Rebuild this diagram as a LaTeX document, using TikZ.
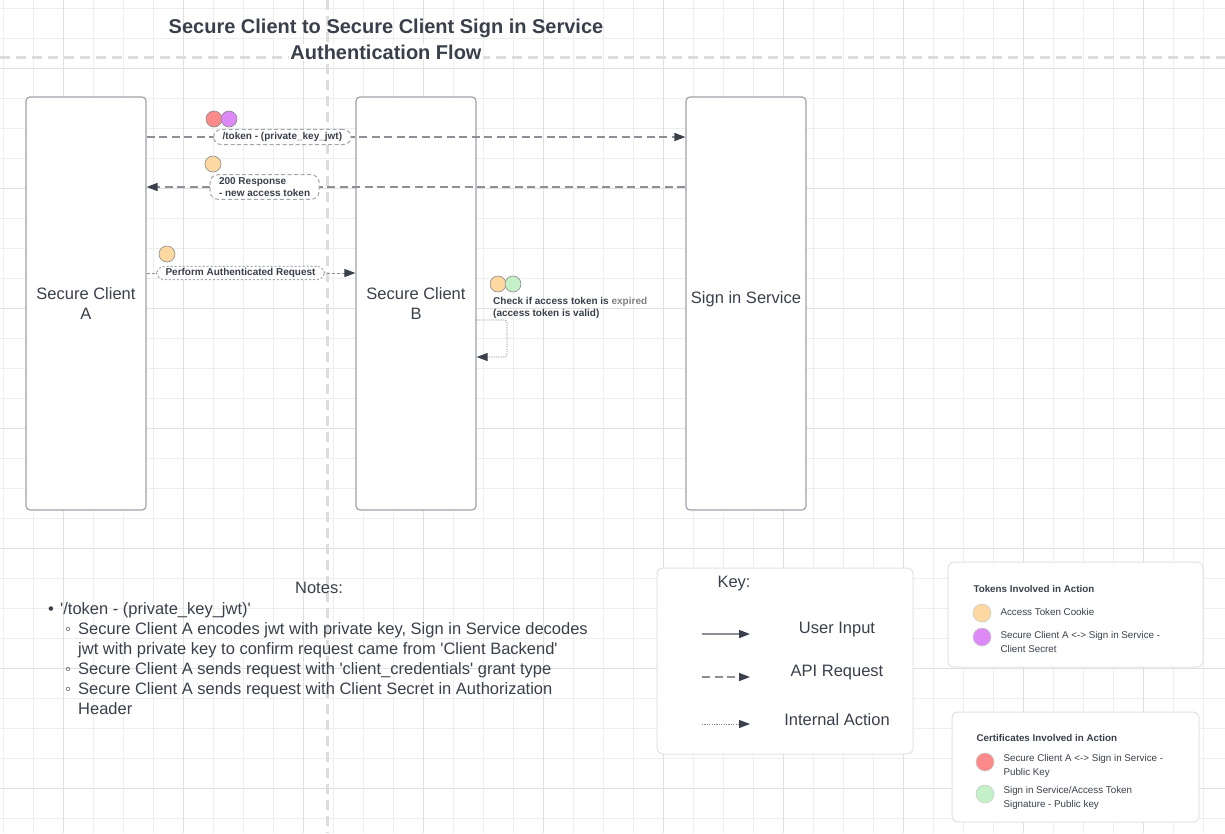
\documentclass[tikz,border=0pt]{standalone}
\usepackage{fontspec}
\setmainfont{Liberation Sans}[Ligatures=TeXOff]
\usetikzlibrary{arrows.meta}
\definecolor{ink}{HTML}{3A404B}
\definecolor{gridA}{HTML}{EEEEEE}
\definecolor{gridB}{HTML}{E0E0E0}
\definecolor{guideC}{HTML}{DDDDDD}
\definecolor{boxline}{HTML}{9EA2AA}
\definecolor{panelline}{HTML}{DFE2E7}
\definecolor{arrowline}{HTML}{8C8F95}
\definecolor{headc}{HTML}{3A404B}
\definecolor{lblline}{HTML}{A3A6AB}
\definecolor{dotline}{HTML}{8A8A8A}
\definecolor{cookieorange}{HTML}{FDD8A0}
\definecolor{secretpurple}{HTML}{DD8AF7}
\definecolor{certred}{HTML}{FD8A8A}
\definecolor{certgreen}{HTML}{C4F1C8}

\begin{document}
\begin{tikzpicture}[x=1pt,y=-1pt,
  every node/.style={text=ink},
  gridminor/.style={draw=gridA, line width=0.8pt},
  gridmajor/.style={draw=gridB, line width=0.9pt},
  guide/.style={draw=guideC, line width=3pt, dash pattern=on 10pt off 6pt},
  actor/.style={draw=boxline, line width=1.2pt, fill=white, rounded corners=4pt,
    minimum width=120pt, minimum height=413pt, align=center,
    font=\fontsize{16.5}{20}\selectfont},
  panel/.style={draw=panelline, line width=1pt, fill=white, rounded corners=6pt},
  tip/.style={-{Triangle[length=11pt,width=8pt,color=headc]}},
  apiarrow/.style={tip, draw=arrowline, line width=1.5pt, dash pattern=on 8pt off 4.5pt},
  userarrow/.style={tip, draw=arrowline, line width=1.5pt},
  intarrow/.style={tip, draw=arrowline, line width=1pt, dash pattern=on 3pt off 2pt},
  dotarrow/.style={tip, draw=dotline, line width=0.8pt, dash pattern=on 1.2pt off 1.2pt},
  apilabel/.style={draw=lblline, line width=1pt, dash pattern=on 4pt off 2.5pt, fill=white,
    rounded corners=8pt, inner xsep=9pt, inner ysep=3pt,
    font=\bfseries\fontsize{10}{11.5}\selectfont},
  intlabel/.style={apilabel, dash pattern=on 2pt off 2pt, rounded corners=8pt},
  tokdot/.style={circle, draw=dotline, line width=0.6pt, minimum size=16pt, inner sep=0pt},
  legdot/.style={tokdot, draw=gray!40, minimum size=18pt},
  big/.style={font=\fontsize{16.5}{20}\selectfont},
  small/.style={font=\fontsize{9.8}{14}\selectfont, align=left},
]
\useasboundingbox (0,0) rectangle (1225,833);
\fill[white] (0,0) rectangle (1225,833);

% grid
\foreach \x in {3,33,...,1223}
  \draw[gridminor] (\x,0) -- (\x,833);
\foreach \y in {8,38,...,833}
  \draw[gridminor] (0,\y) -- (1225,\y);
\foreach \x in {63,183,...,1225}
  \draw[gridmajor] (\x,0) -- (\x,833);
\foreach \y in {68,188,...,833}
  \draw[gridmajor] (0,\y) -- (1225,\y);
\draw[guide] (0,57) -- (1225,57);
\draw[guide] (327,0) -- (327,833);

% title
\node[font=\bfseries\fontsize{20}{24}\selectfont] (title1) at (386,28)
  {Secure Client to Secure Client Sign in Service};
\node[font=\bfseries\fontsize{20}{24}\selectfont, fill=white, inner sep=1pt] (title2) at (386,52)
  {Authentication Flow};

% participants
\node[actor] (clientA) at (86,303.5) {Secure Client\\A};
\node[actor] (clientB) at (416,303.5) {Secure Client\\B};
\node[actor] (signin) at (746,303.5) {\raisebox{0pt}[0pt][0pt]{Sign in Service}};

\coordinate (tokY) at (0,137);
\coordinate (respY) at (0,187);
\coordinate (reqY) at (0,273);
\coordinate (loopTop) at (507,320);
\coordinate (loopBot) at (507,357);

\draw[apiarrow] (clientA.east |- tokY) -- node[apilabel, pos=.252] (tokLbl)
  {/token - (private\_key\_jwt)} (signin.west |- tokY);
\draw[apiarrow] (signin.west |- respY) -- node[apilabel, pos=.781, align=left] (respLbl)
  {200 Response\\- new access token} (clientA.east |- respY);
\draw[intarrow] (clientA.east |- reqY) -- node[intlabel, pos=.45, inner ysep=2pt] (reqLbl)
  {Perform Authenticated Request} (clientB.west |- reqY);
\draw[dotarrow, rounded corners=3pt] (clientB.east |- loopTop) -- (loopTop) -- (loopBot)
  -- (clientB.east |- loopBot);
\node[anchor=north west, align=left, inner sep=0pt,
  font=\bfseries\fontsize{10}{12.5}\selectfont] (checkLbl) at (493,297)
  {Check if access token is \textcolor{gray}{expired}\\(access token is valid)};

% tokens on the messages
\node[tokdot, fill=certred] (tokRed) at (214,119) {};
\node[tokdot, fill=secretpurple] (tokPurple) at (229,119) {};
\node[tokdot, fill=cookieorange] (respOrange) at (213,164) {};
\node[tokdot, fill=cookieorange] (reqOrange) at (167,254) {};
\node[tokdot, fill=cookieorange] (chkOrange) at (498,284) {};
\node[tokdot, fill=certgreen] (chkGreen) at (513,284) {};

% notes
\node[big] (notes) at (319,588) {Notes:};
\foreach \x/\y/\t in
  { 48/608/{\textbullet},
    60/608/{'/token - (private\_key\_jwt)'},
    65/628/{◦},
    78/628/{Secure Client A encodes jwt with private key, Sign in Service decodes},
    78/648/{jwt with private key to confirm request came from 'Client Backend'},
    65/668/{◦},
    78/668/{Secure Client A sends request with 'client\_credentials' grant type},
    65/688/{◦},
    78/688/{Secure Client A sends request with Client Secret in Authorization},
    78/708/{Header}
  }
  \node[big, anchor=base west, inner sep=0pt] at (\x,\y+6) {\t};

% key
\node[panel, minimum width=256pt, minimum height=186pt] (key) at (785,661) {};
\node[big] (keyTitle) at (734,584) {Key:};
\foreach \n/\y/\s/\t in
  { 1/634/userarrow/User Input,
    2/677/apiarrow/API Request,
    3/724/dotarrow/Internal Action
  }
  {
  \coordinate (key\n a) at (702,\y);
  \coordinate (key\n b) at (750,\y);
  \draw[\s] (key\n a) -- (key\n b);
  \node[big] (key\n) at (837,\y-4) {\t};
  }

% tokens legend
\node[panel, minimum width=255pt, minimum height=105pt] (tokens) at (1075.5,614.5) {};
\node[small, anchor=west, font=\bfseries\fontsize{9.8}{14}\selectfont] (tokTitle) at (970,589)
  {Tokens Involved in Action};
\node[legdot, fill=cookieorange] (legOrange) at (982,613) {};
\node[small, anchor=west] (legOrangeTxt) at (997,612) {Access Token Cookie};
\node[legdot, fill=secretpurple] (legPurple) at (982,637) {};
\node[small, anchor=west] (legPurpleTxt) at (997,641.5)
  {Secure Client A <-> Sign in Service -\\Client Secret};

% certificates legend
\node[panel, minimum width=247pt, minimum height=110pt] (certs) at (1075.5,767) {};
\node[small, anchor=west, font=\bfseries\fontsize{9.8}{14}\selectfont] (certTitle) at (973,738)
  {Certificates Involved in Action};
\node[legdot, fill=certred] (legRed) at (985,762) {};
\node[small, anchor=west] (legRedTxt) at (1000,766)
  {Secure Client A <-> Sign in Service -\\Public Key};
\node[legdot, fill=certgreen] (legGreen) at (985,794) {};
\node[small, anchor=west] (legGreenTxt) at (1000,797.5)
  {Sign in Service/Access Token\\Signature - Public key};
\end{tikzpicture}
\end{document}
